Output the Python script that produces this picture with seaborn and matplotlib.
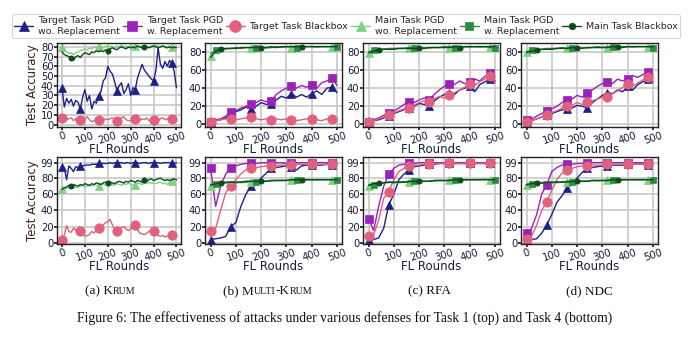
import matplotlib
matplotlib.use("Agg")
import matplotlib.pyplot as plt
import seaborn as sns
import numpy as np

sns.set_theme(style="whitegrid")
plt.rcParams['font.family'] = ['DejaVu Sans']

# ---------------- data ----------------
rounds10 = list(range(0, 501, 10))
rounds20 = list(range(0, 501, 20))

labels = ["Target Task PGD\nwo. Replacement", "Target Task PGD\nw. Replacement",
          "Target Task Blackbox", "Main Task PGD\nwo. Replacement",
          "Main Task PGD\nw. Replacement", "Main Task Blackbox"]
panel_titles = ["(a) K|RUM", "(b) M|ULTI|-K|RUM", "(c) RFA", "(d) NDC"]
x_ticks = [0, 100, 200, 300, 400, 500]
y_ticks_top_a = [0, 10, 20, 30, 40, 50, 60, 70, 80]
y_ticks_top = [0, 20, 40, 60, 80]
y_ticks_bottom = [0, 20, 40, 60, 80, 99]

# Krum, Task 1 (step 10)
krum1_tgt_wo = [38, 18, 27, 22, 26, 19, 25, 23, 16, 28,
                36, 24, 30, 16, 24, 22, 29, 34, 45, 48,
                60, 55, 52, 44, 35, 40, 43, 32, 36, 42,
                30, 38, 36, 48, 55, 62, 56, 53, 50, 47,
                45, 55, 79, 62, 58, 65, 60, 66, 63, 55, 38]
krum1_tgt_bb = [7, 6, 5, 6, 7, 4, 6, 7, 5, 4,
                6, 8, 5, 3, 4, 6, 5, 7, 4, 6,
                5, 6, 7, 5, 4, 6, 7, 8, 5, 4,
                4, 5, 6, 3, 4, 6, 5, 7, 4, 5,
                5, 6, 4, 6, 7, 5, 6, 4, 6, 5, 5]
krum1_main_wo = [80, 76, 75, 73, 74, 72, 74, 75, 76, 77,
                 78, 77, 79, 78, 80, 79, 81, 80, 79, 81,
                 80, 81, 80, 79, 81, 80, 82, 80, 81, 79,
                 82, 80, 81, 79, 80, 81, 80, 79, 80, 81,
                 80, 82, 81, 80, 81, 79, 80, 81, 80, 79, 80]
krum1_main_bb = [75, 72, 71, 70, 69, 66, 70, 71, 69, 72,
                 74, 73, 72, 75, 74, 76, 75, 76, 75, 77,
                 76, 78, 79, 78, 77, 79, 80, 79, 78, 80,
                 79, 80, 79, 81, 80, 79, 80, 80, 79, 80,
                 81, 80, 79, 80, 81, 80, 79, 80, 79, 80, 79]

# Krum, Task 4 (step 10)
krum4_tgt_wo = [94, 92, 78, 95, 92, 88, 94, 93, 95, 95,
                96, 96, 96, 97, 97, 97, 98, 98, 98, 98,
                98, 99, 98, 99, 98, 99, 99, 98, 99, 99,
                98, 99, 99, 99, 98, 99, 99, 99, 98, 99,
                99, 99, 99, 98, 99, 99, 99, 99, 99, 98, 99]
krum4_tgt_bb = [3, 10, 21, 14, 13, 18, 16, 14, 15, 12,
                8, 9, 10, 14, 12, 16, 18, 19, 22, 25,
                26, 29, 22, 17, 15, 16, 19, 20, 17, 15,
                17, 20, 22, 16, 12, 11, 10, 12, 14, 15,
                15, 12, 9, 8, 9, 7, 8, 10, 10, 9, 8]
krum4_main_wo = [66, 65, 68, 67, 69, 70, 68, 69, 70, 71,
                 69, 70, 71, 70, 72, 71, 70, 72, 73, 71,
                 72, 73, 71, 72, 73, 72, 71, 73, 72, 74,
                 72, 71, 72, 74, 73, 72, 74, 73, 75, 73,
                 74, 73, 74, 75, 73, 74, 72, 75, 76, 76, 77]
krum4_main_bb = [66, 68, 69, 71, 70, 72, 71, 70, 72, 71,
                 73, 72, 71, 73, 72, 74, 73, 72, 74, 75,
                 74, 75, 74, 73, 75, 76, 75, 74, 76, 75,
                 77, 76, 75, 77, 76, 75, 77, 76, 78, 79,
                 77, 78, 79, 80, 78, 77, 78, 77, 78, 79, 78]

# Multi-Krum, Task 1 (step 20)
mkrum1_tgt_wo = [3, 4, 5, 7, 11, 14, 16, 19, 17, 20, 24, 22, 22, 27, 31, 29, 34, 30, 33, 30, 34, 37, 33, 40, 41, 35]
mkrum1_tgt_w = [3, 5, 6, 9, 14, 15, 18, 20, 22, 24, 27, 25, 26, 33, 37, 40, 42, 40, 43, 41, 44, 40, 46, 48, 51, 43]
mkrum1_tgt_bb = [2, 4, 5, 6, 6, 5, 6, 7, 8, 6, 5, 6, 5, 6, 5, 6, 5, 4, 5, 6, 6, 5, 4, 6, 6, 4]
mkrum1_main_wo = [76, 81, 83, 83, 84, 84, 84, 85, 84, 85, 85, 84, 85, 85, 86, 85, 85, 86, 85, 86, 86, 85, 86, 86, 86, 86]
mkrum1_main_w = [78, 82, 83, 84, 84, 85, 84, 85, 85, 85, 86, 85, 85, 86, 85, 86, 86, 85, 86, 86, 86, 86, 86, 86, 86, 86]
mkrum1_main_bb = [74, 81, 83, 84, 84, 84, 85, 85, 85, 85, 85, 85, 86, 85, 86, 86, 86, 86, 86, 86, 86, 86, 86, 86, 86, 86]

# RFA, Task 1
rfa1_tgt_wo = [3, 4, 5, 7, 9, 12, 14, 16, 18, 20, 23, 22, 20, 26, 30, 33, 35, 33, 38, 40, 42, 36, 44, 47, 50, 47]
rfa1_tgt_w = [3, 5, 7, 10, 13, 15, 18, 22, 25, 24, 27, 29, 27, 33, 38, 42, 45, 44, 48, 45, 47, 50, 48, 53, 57, 48]
rfa1_tgt_bb = [2, 4, 6, 8, 10, 13, 15, 17, 18, 21, 24, 26, 25, 28, 31, 29, 32, 35, 38, 41, 45, 43, 47, 50, 53, 46]
rfa1_main_wo = [79, 81, 83, 84, 83, 84, 84, 84, 85, 84, 85, 84, 84, 85, 85, 85, 85, 85, 86, 85, 85, 86, 85, 86, 86, 86]
rfa1_main_w = [80, 82, 83, 83, 84, 84, 84, 84, 85, 84, 85, 85, 85, 85, 85, 86, 86, 85, 86, 86, 86, 86, 86, 86, 85, 85]
rfa1_main_bb = [79, 81, 82, 83, 83, 83, 84, 84, 84, 84, 84, 84, 85, 85, 85, 85, 85, 86, 85, 86, 86, 86, 86, 86, 86, 86]

# NDC, Task 1
ndc1_tgt_wo = [3, 4, 6, 8, 10, 12, 14, 16, 17, 18, 21, 20, 18, 24, 28, 32, 35, 34, 38, 36, 42, 38, 44, 47, 50, 47]
ndc1_tgt_w = [5, 6, 9, 12, 15, 17, 20, 24, 27, 28, 32, 30, 35, 38, 42, 45, 47, 45, 50, 48, 50, 54, 52, 55, 58, 55]
ndc1_tgt_bb = [3, 4, 6, 8, 10, 13, 15, 18, 20, 21, 24, 22, 25, 26, 28, 30, 30, 34, 37, 41, 45, 42, 46, 49, 52, 45]
ndc1_main_wo = [80, 81, 82, 83, 83, 84, 84, 84, 85, 84, 84, 85, 84, 85, 85, 85, 85, 86, 85, 85, 86, 85, 86, 86, 86, 86]
ndc1_main_w = [79, 82, 83, 83, 84, 84, 84, 85, 84, 85, 85, 85, 85, 85, 86, 85, 86, 86, 86, 86, 86, 86, 86, 86, 86, 85]
ndc1_main_bb = [80, 81, 82, 83, 83, 83, 84, 84, 84, 85, 85, 84, 85, 85, 85, 85, 85, 86, 86, 85, 86, 86, 86, 86, 86, 86]

# Multi-Krum, Task 4
mkrum4_tgt_wo = [4, 5, 6, 8, 20, 25, 45, 60, 70, 72, 80, 86, 92, 93, 94, 95, 94, 90, 95, 96, 96, 96, 96, 97, 96, 96]
mkrum4_tgt_w = [93, 45, 70, 85, 93, 95, 97, 98, 98, 98, 99, 99, 99, 99, 99, 98, 99, 99, 99, 99, 99, 99, 99, 99, 99, 99]
mkrum4_tgt_bb = [15, 18, 40, 62, 70, 78, 85, 90, 92, 93, 94, 95, 95, 96, 96, 96, 96, 97, 97, 97, 97, 97, 97, 97, 97, 97]
mkrum4_main_wo = [70, 72, 73, 74, 74, 75, 74, 75, 75, 75, 76, 76, 76, 77, 77, 77, 77, 78, 77, 78, 78, 78, 78, 78, 78, 78]
mkrum4_main_w = [72, 73, 74, 74, 75, 74, 75, 75, 76, 75, 76, 76, 77, 77, 77, 77, 78, 77, 78, 78, 78, 78, 78, 78, 78, 78]
mkrum4_main_bb = [71, 73, 74, 75, 75, 75, 75, 76, 76, 76, 76, 76, 77, 77, 77, 77, 78, 78, 78, 78, 78, 78, 78, 78, 78, 78]

# RFA, Task 4
rfa4_tgt_wo = [3, 4, 6, 18, 47, 60, 78, 85, 90, 94, 95, 96, 97, 97, 98, 98, 98, 98, 98, 98, 98, 98, 98, 98, 98, 98]
rfa4_tgt_w = [30, 15, 45, 70, 85, 92, 96, 97, 98, 98, 99, 99, 99, 99, 99, 99, 99, 99, 99, 99, 99, 99, 99, 99, 99, 99]
rfa4_tgt_bb = [8, 10, 28, 55, 63, 78, 88, 92, 95, 96, 96, 97, 97, 97, 98, 98, 98, 98, 98, 98, 98, 98, 98, 98, 98, 98]
rfa4_main_wo = [70, 72, 73, 74, 74, 75, 74, 75, 75, 76, 75, 76, 76, 76, 77, 77, 77, 77, 78, 77, 78, 78, 78, 79, 78, 78]
rfa4_main_w = [71, 72, 73, 74, 75, 74, 75, 75, 75, 76, 76, 76, 76, 77, 77, 77, 77, 78, 77, 78, 78, 78, 78, 78, 78, 78]
rfa4_main_bb = [71, 73, 74, 74, 75, 75, 75, 75, 76, 76, 76, 76, 76, 77, 77, 77, 77, 78, 78, 78, 78, 78, 78, 78, 78, 78]

# NDC, Task 4
ndc4_tgt_wo = [3, 4, 5, 12, 22, 35, 50, 58, 68, 72, 80, 87, 92, 93, 94, 95, 95, 96, 96, 96, 97, 97, 97, 97, 96, 97]
ndc4_tgt_w = [12, 18, 35, 60, 72, 88, 93, 96, 97, 97, 98, 98, 99, 99, 99, 99, 99, 99, 99, 99, 99, 99, 99, 99, 99, 99]
ndc4_tgt_bb = [5, 8, 22, 40, 50, 65, 78, 86, 90, 92, 94, 95, 95, 96, 96, 96, 97, 97, 97, 97, 97, 97, 97, 97, 97, 97]
ndc4_main_wo = [72, 73, 74, 74, 74, 75, 74, 75, 75, 76, 75, 76, 76, 77, 76, 77, 77, 77, 78, 77, 78, 78, 78, 78, 78, 78]
ndc4_main_w = [71, 73, 73, 74, 74, 74, 75, 75, 76, 75, 76, 76, 76, 77, 77, 77, 77, 78, 77, 78, 78, 78, 78, 78, 78, 78]
ndc4_main_bb = [72, 73, 74, 74, 74, 75, 75, 75, 75, 76, 76, 76, 76, 77, 77, 77, 77, 78, 78, 78, 78, 78, 78, 78, 78, 78]

# ---------------- style ----------------
colors = ["#1f1f8a", "#9a22b8", "#e0607f", "#7fd07f", "#2b8c3e", "#0c4a1c"]
markers = ["^", "s", "o", "^", "s", "o"]
msizes = [6.2, 6.2, 6.8, 5.2, 4.8, 3.8]
txt_color = "#1b1b3b"

W, H = 689, 340
fig = plt.figure(figsize=(W / 100, H / 100), dpi=100)

cols_px = [(57, 181), (205, 342), (363, 500), (521, 658)]
rows_px = [(43, 127), (157, 244)]


def make_ax(c, r):
    x0, x1 = cols_px[c]
    y0, y1 = rows_px[r]
    return fig.add_axes([x0 / W, 1 - y1 / H, (x1 - x0) / W, (y1 - y0) / H])


panels = [
    (0, 0, rounds10, [krum1_tgt_wo, None, krum1_tgt_bb, krum1_main_wo, None, krum1_main_bb]),
    (1, 0, rounds20, [mkrum1_tgt_wo, mkrum1_tgt_w, mkrum1_tgt_bb, mkrum1_main_wo, mkrum1_main_w, mkrum1_main_bb]),
    (2, 0, rounds20, [rfa1_tgt_wo, rfa1_tgt_w, rfa1_tgt_bb, rfa1_main_wo, rfa1_main_w, rfa1_main_bb]),
    (3, 0, rounds20, [ndc1_tgt_wo, ndc1_tgt_w, ndc1_tgt_bb, ndc1_main_wo, ndc1_main_w, ndc1_main_bb]),
    (0, 1, rounds10, [krum4_tgt_wo, None, krum4_tgt_bb, krum4_main_wo, None, krum4_main_bb]),
    (1, 1, rounds20, [mkrum4_tgt_wo, mkrum4_tgt_w, mkrum4_tgt_bb, mkrum4_main_wo, mkrum4_main_w, mkrum4_main_bb]),
    (2, 1, rounds20, [rfa4_tgt_wo, rfa4_tgt_w, rfa4_tgt_bb, rfa4_main_wo, rfa4_main_w, rfa4_main_bb]),
    (3, 1, rounds20, [ndc4_tgt_wo, ndc4_tgt_w, ndc4_tgt_bb, ndc4_main_wo, ndc4_main_w, ndc4_main_bb]),
]

legend_handles = None
for c, r, xs, series in panels:
    ax = make_ax(c, r)
    step = xs[1] - xs[0]
    every = 80 // step
    for i, ys in enumerate(series):
        if ys is None:
            continue
        if i < 3:
            me = (0, every)
        else:
            me = ((i - 3) * (20 // step), 2 * every)
        sns.lineplot(x=xs, y=ys, ax=ax, color=colors[i], marker=markers[i],
                     markersize=msizes[i], markeredgewidth=0.5, markeredgecolor=colors[i],
                     markevery=me, linewidth=1.0, label=labels[i], legend=False)
    ax.set_xlim(-22, 520)
    if r == 0:
        if c == 0:
            ax.set_ylim(-2.5, 84)
            ax.set_yticks(y_ticks_top_a)
        else:
            ax.set_ylim(-3, 90)
            ax.set_yticks(y_ticks_top)
    else:
        ax.set_ylim(-1.5, 106)
        ax.set_yticks(y_ticks_bottom)
    ax.set_xticks(x_ticks)
    ax.set_xticklabels([str(t) for t in x_ticks], rotation=18)
    ax.grid(True, color="#c8c8c8", linewidth=1.2)
    ax.set_facecolor("white")
    for s in ax.spines.values():
        s.set_color("#222222")
        s.set_linewidth(1.0)
    ax.tick_params(axis="both", labelsize=7.2, length=2, pad=0.6, colors="#222222",
                   labelcolor=txt_color, left=True, bottom=True)
    ax.set_xlabel("FL Rounds", fontsize=8.5, color=txt_color, labelpad=-2)
    if c == 0:
        ax.set_ylabel("Test Accuracy", fontsize=8.5, color="#3a1f1a", labelpad=1)
    else:
        ax.set_ylabel("")
    if c == 1 and r == 0:
        legend_handles = ax.get_legend_handles_labels()

h, l = legend_handles
leg = fig.legend(h, l, loc="lower left", bbox_to_anchor=(12 / W, 1 - 38 / H, 668 / W, 26 / H),
                 mode="expand", ncol=6, fontsize=6.8, frameon=True, handlelength=2.0,
                 handletextpad=0.5, borderpad=0.25, markerscale=1.25, fancybox=True,
                 borderaxespad=0)
leg.get_frame().set_edgecolor("#cccccc")
leg.get_frame().set_linewidth(0.8)

# ---------------- captions (small caps emulation) ----------------
serif = ["Liberation Serif", "DejaVu Serif"]
renderer = fig.canvas.get_renderer()
centers = [110, 268, 430, 589]
ycap = 1 - 294 / H
for cx, title in zip(centers, panel_titles):
    parts = title.split("|")
    texts = []
    for j, p in enumerate(parts):
        small = (j % 2 == 1)
        t = fig.text(0, ycap, p, fontsize=7.2 if small else 9.5, family=serif,
                     color="#111111", va="baseline", ha="left")
        texts.append(t)
    widths = [t.get_window_extent(renderer).width for t in texts]
    total = sum(widths)
    x = cx - total / 2
    for t, w in zip(texts, widths):
        t.set_x(x / W)
        x += w

fig.text(0.5, 1 - 322 / H,
         "Figure 6: The effectiveness of attacks under various defenses for Task 1 (top) and Task 4 (bottom)",
         ha="center", va="baseline", fontsize=9.8, family=serif, color="#111111")

fig.savefig("out.png", dpi=100)
